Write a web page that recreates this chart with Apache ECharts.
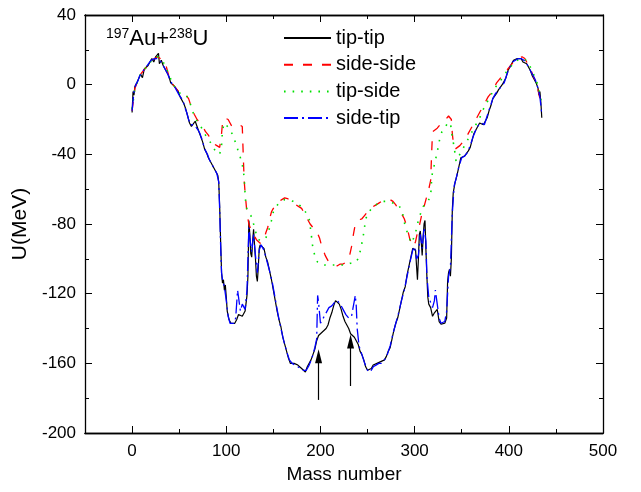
<!DOCTYPE html>
<html>
<head>
<meta charset="utf-8">
<script src="https://cdn.jsdelivr.net/npm/echarts@6/dist/echarts.min.js"></script>
<style>
  html, body { margin: 0; padding: 0; background: #fff; }
  #chart { width: 641px; height: 492px; }
</style>
</head>
<body>
<div id="chart"></div>
<script>
// mass number / potential (MeV)
const tipTipX = [0,1,2,3,5,7,9,11,13,15,17,19,21,23,25,27,28,29,31,33,35,37,39,41,43,45,47,49,51,53,55,57,59,61,63,65,67,69,71,73,75,77,79,81,83,85,87,89,91,92,93,94,95,96,97,98,99,100,101,103,105,107,109,111,113,115,117,118,120,122,123,124,125,126,127,128,129,130,131,132,133,134,135,136,138,140,142,144,146,148,150,152,154,156,158,160,162,164,166,168,170,172,174,176,178,180,182,184,186,188,190,192,194,196,198,200,202,204,206,208,210,212,214,216,218,220,222,224,226,228,230,232,234,236,238,240,242,244,246,248,250,252,254,256,258,260,262,264,266,268,270,272,274,276,278,280,282,284,286,288,290,292,294,296,298,300,301,302,303,304,305,306,307,308,309,310,311,312,313,314,315,317,319,321,323,324,326,328,330,332,334,335,336,337,338,339,340,341,343,345,347,349,351,353,355,357,359,361,363,365,367,369,371,373,375,377,379,381,383,385,387,389,391,393,395,397,399,401,403,405,407,409,411,413,415,417,419,421,423,425,427,429,431,432,433,434,435];
const tipTipY = [-16,-4,-6,-1,1,0,6,4,9,8,11,12,15,13,16,15,18,12,14,11,10,7,5,1,2,-1,-2,-4,-7,-6,-11,-14,-18,-22,-24,-23,-21,-24,-27,-28,-33,-37,-39,-42,-44,-46,-48,-50,-52,-56,-70,-90,-108,-114,-112,-118,-115,-122,-130,-135,-137,-137.5,-137,-135,-132,-131,-133,-132,-130,-121,-110,-78,-86,-97,-99,-90,-83,-92,-100,-110,-113,-105,-94,-92,-92,-94,-99,-102,-107,-112,-118,-124,-130,-135,-139,-145,-149,-153,-157,-160,-160,-160,-161,-161,-162,-163,-164,-165,-162,-160,-158,-155,-152,-147,-144,-144,-142,-141,-140,-138,-134,-131,-127,-124,-124,-126,-129,-133,-136,-138,-140,-143,-144,-145,-145,-149,-153,-155,-158,-162,-164,-165,-163,-161,-161,-160,-160,-159,-160,-158,-156,-153,-151,-146,-141,-137,-134,-129,-124,-119,-116,-109,-104,-99,-94,-93,-95,-104,-112,-100,-86,-84,-90,-98,-88,-80,-78,-95,-110,-122,-126,-128,-133,-131,-130,-129,-136,-137.5,-138,-137,-134,-113,-108,-106,-110,-100,-72,-62,-56,-52,-47,-42,-41,-41,-40,-38,-36,-32,-28,-26,-24,-22,-21,-23,-24,-19,-15,-12,-8,-7,-5,-3,-2,0,1,4,8,10,12,14,13,15,16,15,13,14,12,10,8,5,4,1,-2,-6,-4,-10,-19];

const sideSideX = [0,3,6,9,12,15,18,21,24,27,30,33,36,39,42,45,48,51,54,57,60,63,66,69,72,75,78,81,84,87,90,93,94,95,96,98,100,102,104,106,108,110,112,114,116,117,118,119,120,122,124,126,128,130,132,134,136,138,140,142,144,146,148,150,153,156,159,162,165,168,171,174,177,180,183,186,189,192,195,197,199,201,203,205,207,209,212,215,218,221,224,227,229,231,233,235,237,239,241,244,247,250,253,256,259,262,265,268,271,274,277,280,283,286,289,292,295,297,299,301,303,305,307,309,311,313,315,317,318,319,321,324,327,330,333,336,338,339,340,341,343,345,348,351,354,357,360,363,366,369,372,375,378,381,384,387,390,393,396,399,402,405,408,411,414,417,420,423,426,429,431,433,435];
const sideSideY = [-15,-2,2,6,8,10,12,14,15,16,15,14,11,5,1,-1,-3,-5,-6,-6,-8,-13,-17,-20,-22,-24,-27,-29,-32,-34,-35,-36,-36.5,-28,-22,-19,-19,-20,-22,-24,-24,-24,-23,-23,-23,-24,-40,-55,-62,-74,-80,-83,-85,-87,-89,-90,-91,-91,-89,-85,-82,-77,-73,-71,-69,-67,-66,-65,-65.5,-66,-68,-69,-70,-71,-74,-77,-80,-82,-83,-84,-88,-92,-95,-98,-100,-102,-103,-103.5,-104,-103,-103,-102,-101,-98,-93,-86,-80,-78,-78,-77,-75,-73,-71,-70,-69,-68,-67,-66.5,-66,-66,-67,-69,-72,-74,-77,-82,-89,-91,-93,-90,-85,-81,-76,-72,-68,-64,-60,-55,-40,-27,-26,-25,-23,-21,-20,-18,-17,-20,-28,-33,-37,-36,-35,-33,-31,-28,-25,-22,-19,-16,-13,-10,-7,-5,-2,1,3,5,7,9,11,13,14,15,16,15,12,9,5,1,-3,-8,-13];

const tipSideX = [0,3,6,9,12,15,18,21,24,27,30,33,36,39,42,45,48,51,54,57,60,63,66,69,72,75,78,81,84,87,90,93,95,96,98,100,103,106,109,112,115,117,119,120,121,123,126,128,130,132,134,136,139,142,145,148,150,153,156,159,162,165,168,171,174,177,180,183,186,188,190,192,194,197,200,204,208,212,216,220,224,228,232,236,238,240,243,246,248,250,253,256,259,262,265,268,271,274,277,280,283,285,287,289,291,293,295,297,299,301,303,305,307,309,311,313,315,317,318,319,321,323,325,327,329,332,335,338,340,342,344,346,349,352,355,358,361,364,367,370,373,376,379,382,385,388,391,394,397,400,403,406,409,412,415,418,421,424,427,430,432,434,435];
const tipSideY = [-14,-2,2,6,8,10,12,14,15,16,15,13,10,6,2,-1,-3,-5,-6,-6,-8,-13,-18,-21,-23,-26,-29,-31,-34,-37,-39,-40,-35,-26,-22,-22,-25,-28,-32,-37,-42,-46,-53,-63,-70,-73,-75,-78,-82,-86,-89,-90,-89.5,-88,-84,-78,-73,-70,-68,-67,-66,-66,-66.5,-67,-68,-69,-70,-72,-75,-77,-85,-94,-98,-102,-103,-103.5,-103.5,-103.5,-103.5,-103.5,-103.5,-103,-102.5,-102.5,-102,-100,-94,-85,-77,-75,-72,-70,-69,-68,-67,-67,-67,-67.5,-68,-68.5,-69,-69,-73,-79,-83,-86,-89,-91,-90,-85,-80,-76,-73,-70,-69,-68,-68,-64,-55,-50,-46,-41,-36,-30,-27,-25,-22,-22,-30,-36,-44,-42,-39,-36,-33,-30,-27,-24,-21,-18,-14,-11,-8,-5,-2,0,2,5,7,9,11,13,14,15,15,14,12,9,5,1,-3,-8,-12];

const sideTipX = [0,2,4,6,8,10,12,14,16,18,20,22,24,26,28,30,32,34,36,38,40,42,44,46,48,50,52,54,56,58,60,62,64,66,68,70,72,74,76,78,80,82,84,86,88,90,92,93,94,95,96,98,100,102,104,106,108,110,112,113,115,117,118,120,122,123,124,125,127,129,131,133,135,137,140,143,146,149,152,155,158,161,164,167,170,173,176,179,182,185,188,191,194,196,197,198,200,203,206,209,212,215,218,221,224,227,230,233,236,237,238,239,241,244,247,250,253,256,259,262,265,268,271,274,277,280,283,286,289,292,295,298,300,302,304,306,308,310,312,313,315,317,319,321,322,324,326,328,330,332,334,336,338,340,342,344,347,350,353,356,359,362,365,368,371,374,377,380,383,386,389,392,395,398,401,404,407,410,413,416,419,422,425,428,431,433,435];
const sideTipY = [-15,-4,0,2,5,6,8,9,11,12,14,15,15,16,15,14,12,10,8,6,3,1,0,-2,-3,-6,-7,-9,-13,-16,-20,-23,-24,-23,-24,-26,-28,-31,-35,-38,-40,-43,-45,-47,-49,-51,-56,-72,-92,-108,-112,-116,-124,-133,-137,-138,-137,-134,-118,-122,-130,-126,-125,-129,-118,-100,-82,-88,-96,-86,-98,-108,-95,-92,-95,-101,-107,-114,-123,-132,-140,-147,-153,-158,-160,-161,-162,-163,-164,-164,-161,-157,-151,-146,-121,-125,-137,-134,-131,-128,-127,-125,-124,-126,-129,-132,-134,-133,-124,-121,-127,-140,-150,-155,-160,-164,-165,-162,-161,-160,-160,-158,-155,-150,-143,-137,-131,-124,-118,-110,-102,-95,-93,-100,-98,-86,-94,-82,-90,-110,-122,-125,-128,-124,-118,-126,-134,-137,-138,-136,-130,-110,-105,-74,-58,-54,-47,-42,-41,-39,-35,-30,-26,-23,-22,-23,-18,-13,-8,-5,-3,-1,1,6,10,13,14,15,15,14,12,9,6,3,-2,-7,-17];

const xLabels = [0, 100, 200, 300, 400, 500];
const xMinor = [50, 150, 250, 350, 450];
// arrows marking the two configurations: [x, from y, to y]
const arrows = [[198, -181, -156], [232, -173, -147.5]];

const font = 'Liberation Sans, Arial, sans-serif';
const zip = (xs, ys) => xs.map((x, i) => [x, ys[i]]);

const chart = echarts.init(document.getElementById('chart'));

const xBase = {
    type: 'value', min: -50, max: 500,
    axisLine: {show: true, onZero: false, lineStyle: {color: '#000', width: 1.3}},
    splitLine: {show: false}
};
const yBase = {
    type: 'value', min: -200, max: 40, interval: 40,
    axisLine: {show: true, onZero: false, lineStyle: {color: '#000', width: 1.3}},
    axisTick: {show: true, inside: true, length: 7, lineStyle: {color: '#000'}},
    minorTick: {show: true, splitNumber: 2, length: 4, lineStyle: {color: '#000'}},
    splitLine: {show: false}, minorSplitLine: {show: false}
};

chart.setOption({
    animation: false,
    grid: {left: 85, right: 38, top: 15, bottom: 59},
    graphic: [{
        type: 'text', left: 106, top: 27,
        style: {
            text: '{s|197}{b|Au+}{s|238}{b|U}',
            fill: '#000',
            rich: {
                s: {fontSize: 14, fontFamily: font, verticalAlign: 'top', lineHeight: 24, padding: [0, 0, 10, 0]},
                b: {fontSize: 22, fontFamily: font, lineHeight: 24}
            }
        }
    }],
    legend: {
        orient: 'vertical', left: 278, top: 23,
        itemWidth: 47, itemHeight: 14, itemGap: 6.7, textGap: 7,
        data: ['tip-tip', 'side-side', 'tip-side', 'side-tip'],
        itemStyle: {opacity: 0},
        textStyle: {fontSize: 20, lineHeight: 20, fontFamily: font, color: '#000'}
    },
    xAxis: [
        Object.assign({}, xBase, {
            position: 'bottom',
            name: 'Mass number', nameLocation: 'middle', nameGap: 27,
            nameTextStyle: {fontSize: 19, fontFamily: font, color: '#000'},
            axisTick: {show: true, inside: true, length: 7, customValues: xLabels, lineStyle: {color: '#000'}},
            axisLabel: {show: true, customValues: xLabels, margin: 10, fontSize: 17, fontFamily: font, color: '#000'}
        }),
        Object.assign({}, xBase, {
            position: 'bottom',
            axisTick: {show: true, inside: true, length: 4, customValues: xMinor, lineStyle: {color: '#000'}},
            axisLabel: {show: false}
        }),
        Object.assign({}, xBase, {
            position: 'top',
            axisTick: {show: true, inside: true, length: 7, customValues: xLabels, lineStyle: {color: '#000'}},
            axisLabel: {show: false}
        }),
        Object.assign({}, xBase, {
            position: 'top',
            axisTick: {show: true, inside: true, length: 4, customValues: xMinor, lineStyle: {color: '#000'}},
            axisLabel: {show: false}
        })
    ],
    yAxis: [
        Object.assign({}, yBase, {
            position: 'left',
            name: 'U(MeV)', nameLocation: 'middle', nameGap: 49,
            nameTextStyle: {fontSize: 21, fontFamily: font, color: '#000'},
            axisLabel: {show: true, margin: 9, fontSize: 17, fontFamily: font, color: '#000'}
        }),
        Object.assign({}, yBase, {position: 'right', axisLabel: {show: false}})
    ],
    series: [
        {
            name: 'tip-tip', type: 'line', symbol: 'none', data: zip(tipTipX, tipTipY),
            lineStyle: {color: '#000', width: 1.2}, itemStyle: {color: '#000'},
            markLine: {
                silent: true, symbol: ['none', 'triangle'], symbolSize: [7, 14],
                label: {show: false},
                lineStyle: {color: '#000', width: 1.2, type: 'solid'},
                data: arrows.map(a => [{coord: [a[0], a[1]]}, {coord: [a[0], a[2]]}])
            }
        },
        {
            name: 'side-side', type: 'line', symbol: 'none', data: zip(sideSideX, sideSideY),
            lineStyle: {color: '#ff0000', width: 1.3, type: [9, 10]}, itemStyle: {color: '#ff0000'}
        },
        {
            name: 'tip-side', type: 'line', symbol: 'none', data: zip(tipSideX, tipSideY),
            lineStyle: {color: '#00e000', width: 1.6, type: [1.6, 7]}, itemStyle: {color: '#00e000'}
        },
        {
            name: 'side-tip', type: 'line', symbol: 'none', data: zip(sideTipX, sideTipY),
            lineStyle: {color: '#0000ff', width: 1.3, type: [14, 4, 2, 4]}, itemStyle: {color: '#0000ff'}
        }
    ]
});
</script>
</body>
</html>
